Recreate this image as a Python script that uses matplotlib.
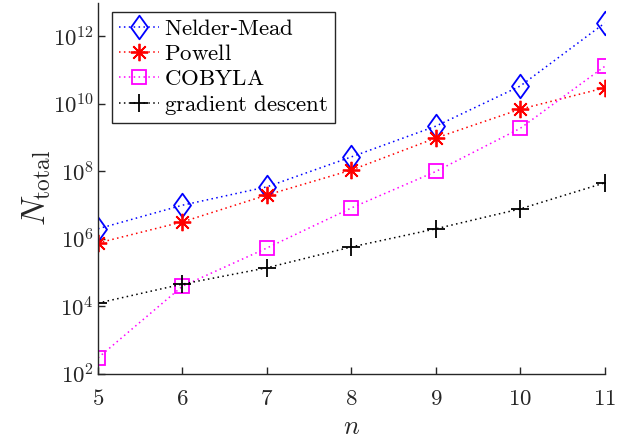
import numpy as np
import matplotlib
matplotlib.use("Agg")
import matplotlib.pyplot as plt
from matplotlib.path import Path
from matplotlib.ticker import FixedLocator, FuncFormatter, NullLocator

plt.rcParams["mathtext.fontset"] = "cm"
plt.rcParams["font.family"] = "serif"
plt.rcParams["font.serif"] = ["DejaVu Serif"]

n = [5, 6, 7, 8, 9, 10, 11]
nelder_mead = [2.0e6, 1.0e7, 3.5e7, 2.7e8, 2.2e9, 3.4e10, 2.5e12]
powell = [7.6e5, 3.2e6, 2.0e7, 1.1e8, 9.8e8, 7.0e9, 3.0e10]
cobyla = [3.0e2, 4.0e4, 5.4e5, 8.3e6, 1.0e8, 1.9e9, 1.3e11]
grad_descent = [1.26e4, 4.6e4, 1.4e5, 5.8e5, 2.0e6, 7.8e6, 4.6e7]

labels = [r"$\mathrm{Nelder}$-$\mathrm{Mead}$", r"$\mathrm{Powell}$",
          r"$\mathrm{COBYLA}$", r"$\mathrm{gradient\ descent}$"]

# MATLAB style tall diamond
diamond = Path([(0, 1), (0.72, 0), (0, -1), (-0.72, 0), (0, 1)],
               [Path.MOVETO, Path.LINETO, Path.LINETO, Path.LINETO, Path.CLOSEPOLY])

fig = plt.figure(figsize=(6.3, 4.45), dpi=100)
ax = fig.add_axes([0.1556, 0.1596, 0.8044, 0.8344])

dots = (0, (1, 2.2))
ax.plot(n, nelder_mead, color=(0, 0, 1), ls=dots, lw=1.1, marker=diamond,
        ms=17, mfc="none", mew=1.3, label=labels[0])
ax.plot(n, powell, color=(1, 0, 0), ls=dots, lw=1.1, marker=(8, 2, 0),
        ms=12.5, mew=1.3, label=labels[1])
ax.plot(n, cobyla, color=(1, 0, 1), ls=dots, lw=1.1, marker="s",
        ms=10, mfc="none", mew=1.3, label=labels[2])
ax.plot(n, grad_descent, color="k", ls=dots, lw=1.1, marker="+",
        ms=12.5, mew=1.3, label=labels[3])

ax.set_yscale("log")
ax.set_xlim(5, 11)
ax.set_ylim(1e2, 1e13)
ax.xaxis.set_major_locator(FixedLocator(n))
ax.xaxis.set_major_formatter(FuncFormatter(lambda v, p: r"$%d$" % v))
ax.yaxis.set_major_locator(FixedLocator([1e2, 1e4, 1e6, 1e8, 1e10, 1e12]))
ax.yaxis.set_minor_locator(NullLocator())
ax.yaxis.set_major_formatter(FuncFormatter(lambda v, p: r"$10^{%d}$" % round(np.log10(v))))

for s in ["top", "right"]:
    ax.spines[s].set_visible(False)
for s in ["left", "bottom"]:
    ax.spines[s].set_color("#262626")
    ax.spines[s].set_linewidth(1.0)
ax.tick_params(direction="in", length=5, width=1.0, colors="#262626",
               labelsize=16.5, labelcolor="#262626")
ax.tick_params(axis="x", pad=10)
ax.tick_params(axis="y", pad=3)

ax.set_xlabel(r"$n$", fontsize=19, color="#262626", labelpad=3)
ax.set_ylabel(r"$N_{\mathrm{total}}$", fontsize=24, color="#262626", labelpad=0)

leg = ax.legend(loc="upper left", bbox_to_anchor=(0.028, 0.975), fontsize=16.5,
                handlelength=1.75, handletextpad=0.25, borderpad=0.28,
                labelspacing=0.12, fancybox=False, framealpha=1,
                edgecolor="#262626", borderaxespad=0)
leg.get_frame().set_linewidth(1.0)

fig.savefig("out.png", dpi=100)
